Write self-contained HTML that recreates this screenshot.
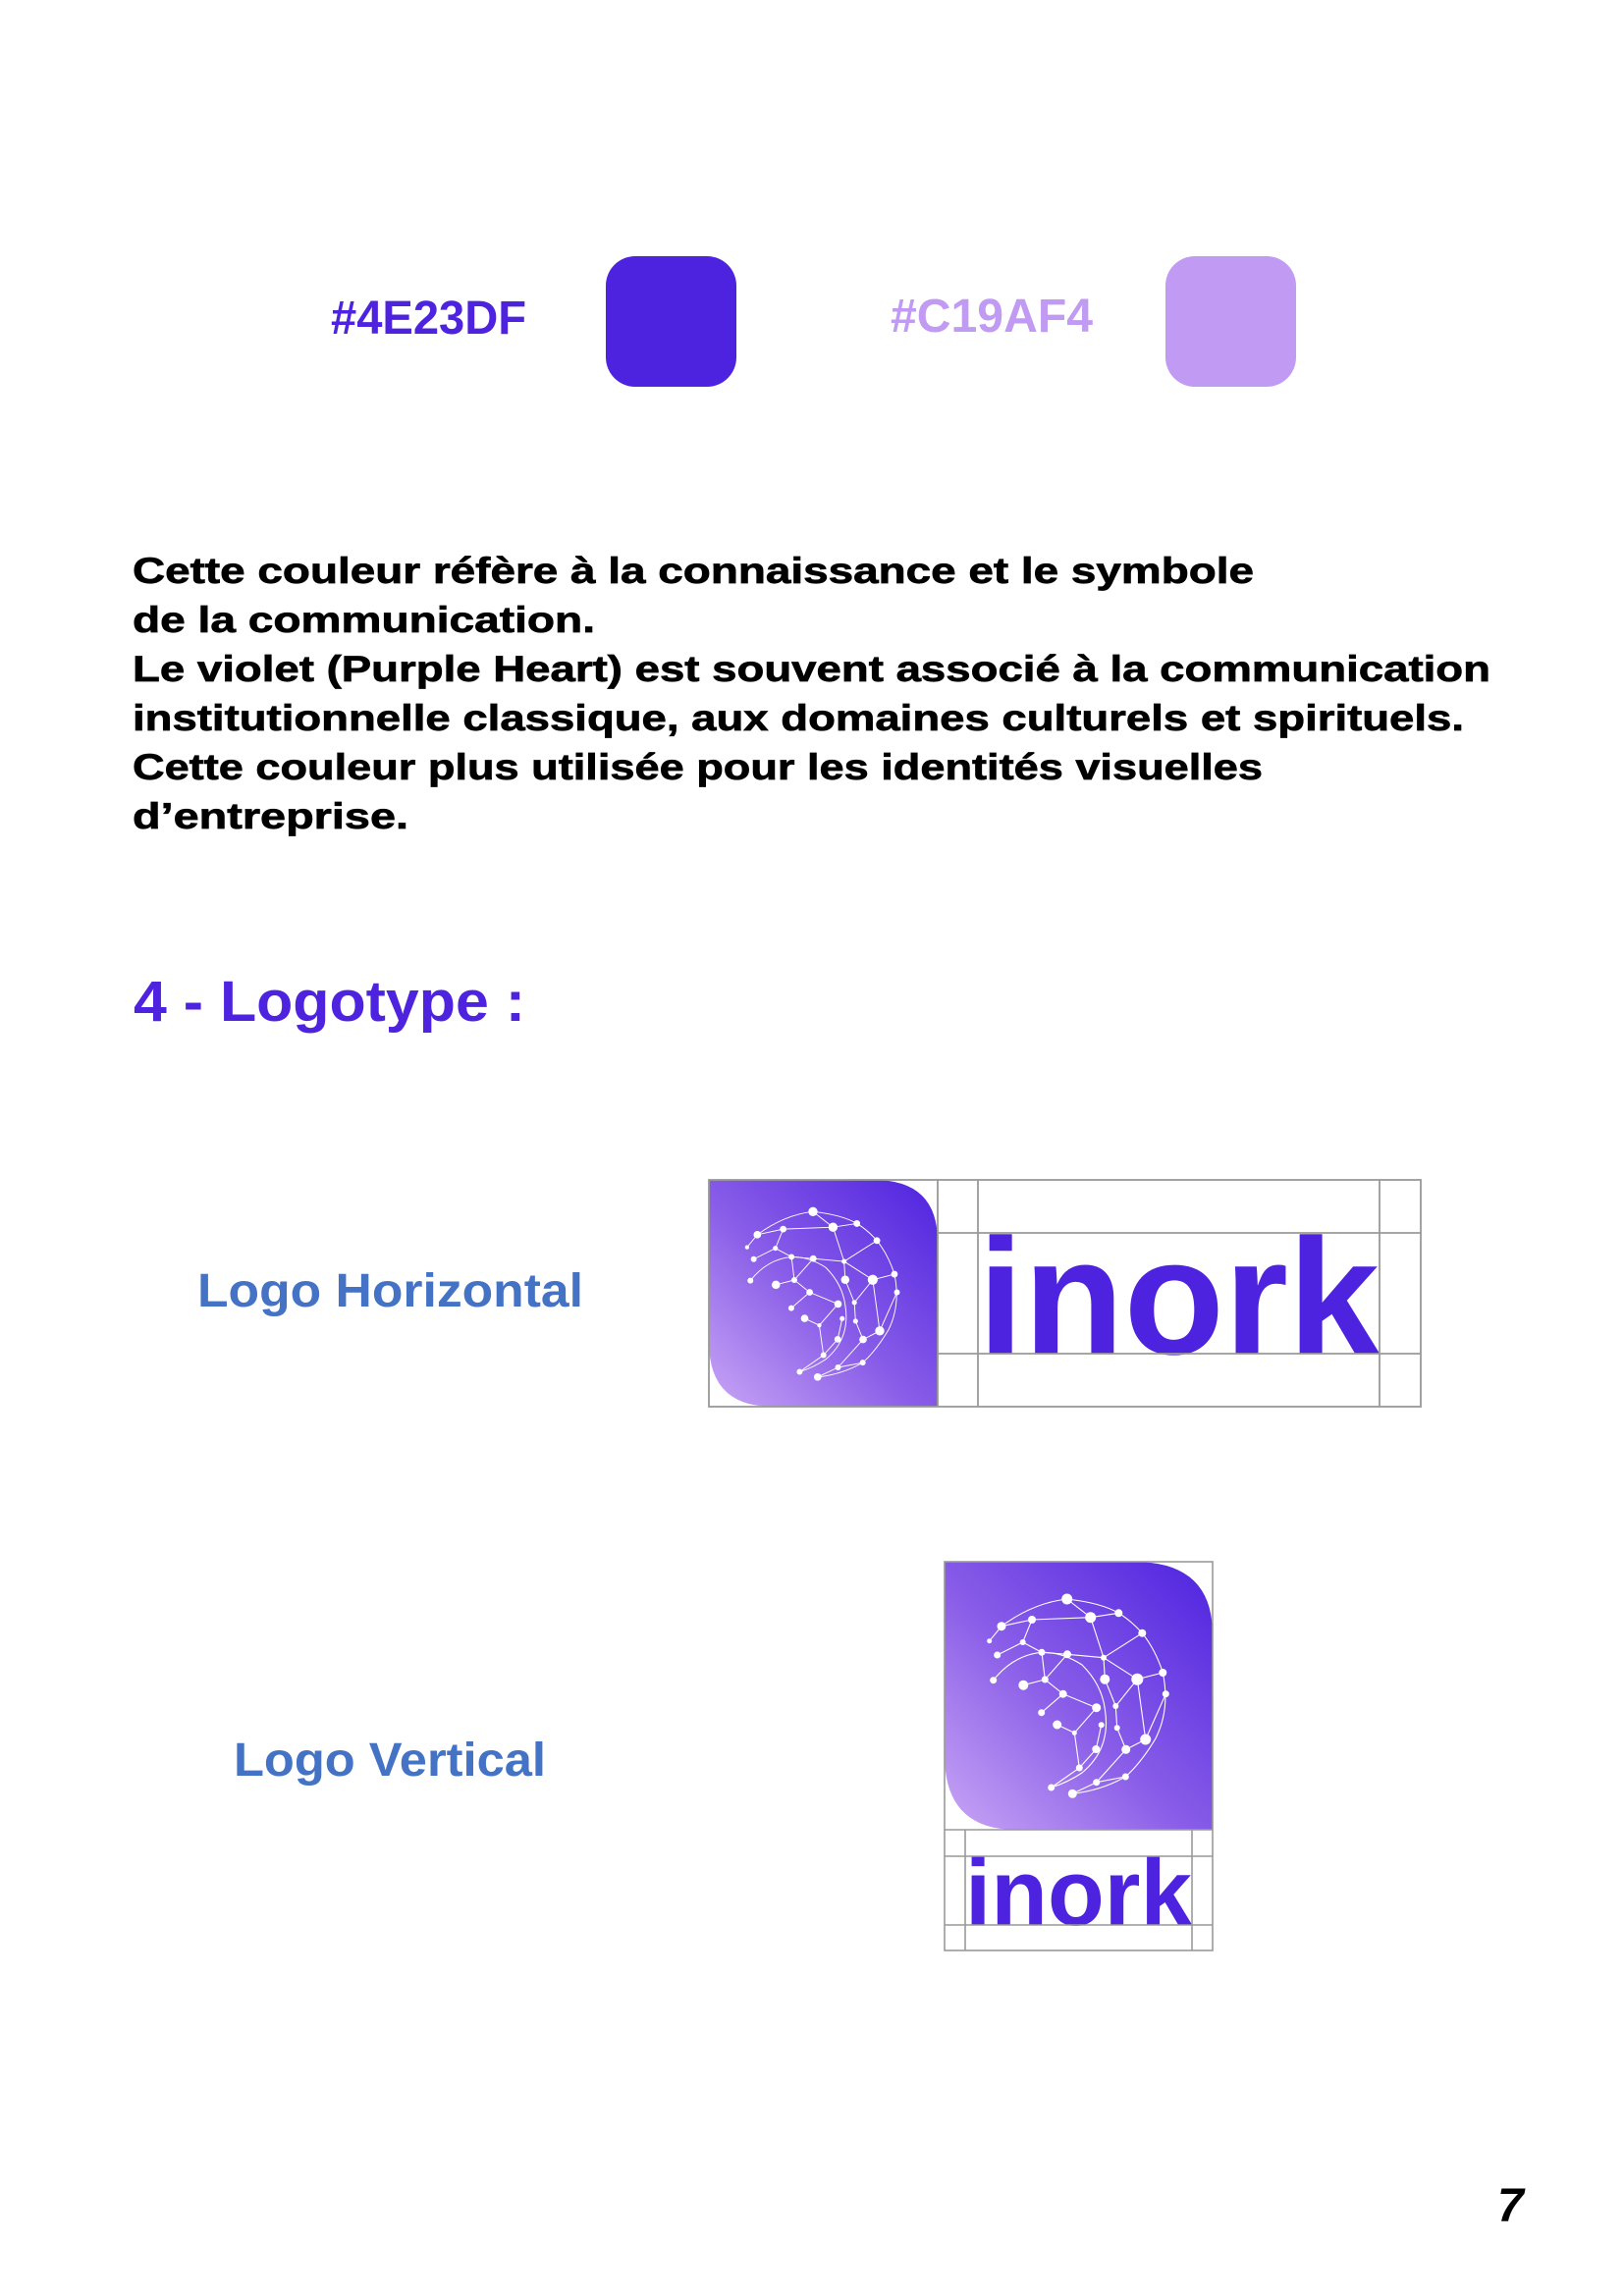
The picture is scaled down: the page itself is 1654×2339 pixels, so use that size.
<!DOCTYPE html>
<html><head><meta charset="utf-8"><style>
html,body{margin:0;padding:0;background:#fff;}
svg{display:block;}
text{font-family:"Liberation Sans",sans-serif;font-weight:bold;}
</style></head><body>
<svg width="1654" height="2339" viewBox="0 0 1654 2339" xmlns="http://www.w3.org/2000/svg">
<defs>
<linearGradient id="g" x1="0" y1="1" x2="1" y2="0">
<stop offset="0" stop-color="#c9a6f5"/>
<stop offset="0.45" stop-color="#8a5ee8"/>
<stop offset="1" stop-color="#4e23df"/>
</linearGradient>
<g id="net" fill="#fff" stroke="#fff" stroke-width="1.1">
<g fill="none">
<path d="M58,65.7 Q90,42 124.7,38 Q160,42 177.3,52.3 Q190,60 201.3,72.7 Q215,90 222.3,113 Q230,150 215,180 Q200,205 184.3,219 Q160,233 130.3,236.3"/>
<path d="M49.7,120.7 Q70,95 99,92.3 Q120,92 140,105 Q160,125 163.3,150 Q170,190 140,215 Q125,225 108.7,230"/>
<path d="M58,65.7 L89,59 L148.7,56.7 L177.3,52.3 M124.7,38 L148.7,56.7 M58,65.7 L45.7,80.7 M89,59 L79.7,82 L53.7,95 M79.7,82 L99,92.3 L125,94.3 L162,97.7 L148.7,56.7 M162,97.7 L201.3,72.7 M162,97.7 L163.3,119.7 M162,97.7 L196.3,119.7 L222.3,113 M196.3,119.7 L174.3,147 M196.3,119.7 L204.7,181 L225.3,134.7 M99,92.3 L102.3,120 L80.3,125.7 M125,94.3 L102.3,120 L120.7,134.7 L154.7,148.7 M120.7,134.7 L98.7,153.7 M154.7,148.7 L132.3,174.3 L114.7,166 M132.3,174.3 L137.3,210 L108.7,230 M137.3,210 L154.3,191 L159.7,166.3 M174.3,147 L175.7,169.3 L184.7,191.3 L204.7,181 M184.7,191.3 L154.7,224.7 L184.3,219 M154.7,224.7 L130.3,236.3 M163.3,119.7 L174.3,147"/>
</g>
<g stroke="none">
<circle cx="124.7" cy="38" r="5.5"/><circle cx="148.7" cy="56.7" r="5.5"/><circle cx="177.3" cy="52.3" r="4"/>
<circle cx="89" cy="59" r="4"/><circle cx="58" cy="65.7" r="4.5"/><circle cx="45.7" cy="80.7" r="2.5"/>
<circle cx="79.7" cy="82" r="3"/><circle cx="53.7" cy="95" r="3.5"/><circle cx="99" cy="92.3" r="3.5"/>
<circle cx="125" cy="94.3" r="4"/><circle cx="162" cy="97.7" r="3"/><circle cx="201.3" cy="72.7" r="4"/>
<circle cx="163.3" cy="119.7" r="5"/><circle cx="196.3" cy="119.7" r="6"/><circle cx="222.3" cy="113" r="4"/>
<circle cx="225.3" cy="134.7" r="3.5"/><circle cx="102.3" cy="120" r="3.5"/><circle cx="80.3" cy="125.7" r="5"/>
<circle cx="49.7" cy="120.7" r="3.5"/><circle cx="120.7" cy="134.7" r="4"/><circle cx="154.7" cy="148.7" r="4.5"/>
<circle cx="98.7" cy="153.7" r="3.5"/><circle cx="174.3" cy="147" r="3"/><circle cx="114.7" cy="166" r="4.5"/>
<circle cx="132.3" cy="174.3" r="2.5"/><circle cx="159.7" cy="166.3" r="3"/><circle cx="175.7" cy="169.3" r="3"/>
<circle cx="204.7" cy="181" r="5.5"/><circle cx="154.3" cy="191" r="4"/><circle cx="184.7" cy="191.3" r="4.5"/>
<circle cx="137.3" cy="210" r="3.5"/><circle cx="108.7" cy="230" r="3.5"/><circle cx="130.3" cy="236.3" r="4.5"/>
<circle cx="154.7" cy="224.7" r="3.5"/><circle cx="184.3" cy="219" r="3.5"/>
</g>
</g>
</defs>

<text x="337" y="340" font-size="48" fill="#4e23df" textLength="199" lengthAdjust="spacingAndGlyphs">#4E23DF</text>
<rect x="617" y="261" width="133" height="133" rx="30" fill="#4e23df"/>
<text x="907" y="338" font-size="48" fill="#c19af4" textLength="206" lengthAdjust="spacingAndGlyphs">#C19AF4</text>
<rect x="1187" y="261" width="133" height="133" rx="30" fill="#c19af4"/>

<g font-size="37" fill="#000" stroke="#000" stroke-width="0.7">
<text x="135" y="594" textLength="1142" lengthAdjust="spacingAndGlyphs">Cette couleur réfère à la connaissance et le symbole</text>
<text x="135" y="644" textLength="471" lengthAdjust="spacingAndGlyphs">de la communication.</text>
<text x="135" y="694" textLength="1383" lengthAdjust="spacingAndGlyphs">Le violet (Purple Heart) est souvent associé à la communication</text>
<text x="135" y="744" textLength="1356" lengthAdjust="spacingAndGlyphs">institutionnelle classique, aux domaines culturels et spirituels.</text>
<text x="135" y="794" textLength="1151" lengthAdjust="spacingAndGlyphs">Cette couleur plus utilisée pour les identités visuelles</text>
<text x="135" y="844" textLength="281" lengthAdjust="spacingAndGlyphs">d’entreprise.</text>
</g>

<text x="136" y="1040" font-size="58" fill="#4e23df" textLength="399" lengthAdjust="spacingAndGlyphs">4 - Logotype :</text>

<text x="201" y="1331" font-size="48" fill="#4472c4" textLength="393" lengthAdjust="spacingAndGlyphs">Logo Horizontal</text>
<text x="238" y="1809" font-size="48" fill="#4472c4" textLength="318" lengthAdjust="spacingAndGlyphs">Logo Vertical</text>

<path d="M722,1202 H890 Q955,1202 955,1265 V1433 H787 Q722,1433 722,1367 Z" fill="url(#g)"/>
<g transform="translate(722,1202) scale(0.85)"><use href="#net"/></g>
<text x="996" y="1379" font-size="168" fill="#4e23df" textLength="409" lengthAdjust="spacingAndGlyphs">inork</text>
<g stroke="#999" stroke-width="1.8" fill="none">
<rect x="722" y="1202" width="725" height="231"/>
<line x1="955" y1="1202" x2="955" y2="1433"/>
<line x1="996" y1="1202" x2="996" y2="1433"/>
<line x1="1405" y1="1202" x2="1405" y2="1433"/>
<line x1="955" y1="1256" x2="1447" y2="1256"/>
<line x1="955" y1="1379" x2="1447" y2="1379"/>
</g>

<path d="M962,1591 H1155 Q1235,1591 1235,1665 V1864 H1035 Q962,1864 962,1788 Z" fill="url(#g)"/>
<g transform="translate(962,1591)"><use href="#net"/></g>
<text x="983" y="1961" font-size="96" fill="#4e23df" textLength="231" lengthAdjust="spacingAndGlyphs">inork</text>
<g stroke="#999" stroke-width="1.6" fill="none">
<rect x="962" y="1591" width="273" height="396"/>
<line x1="962" y1="1864" x2="1235" y2="1864"/>
<line x1="962" y1="1891" x2="1235" y2="1891"/>
<line x1="962" y1="1961" x2="1235" y2="1961"/>
<line x1="983" y1="1864" x2="983" y2="1987"/>
<line x1="1214" y1="1864" x2="1214" y2="1987"/>
</g>

<text x="1525" y="2263" font-size="48" font-style="italic" fill="#000">7</text>
</svg>
</body></html>
